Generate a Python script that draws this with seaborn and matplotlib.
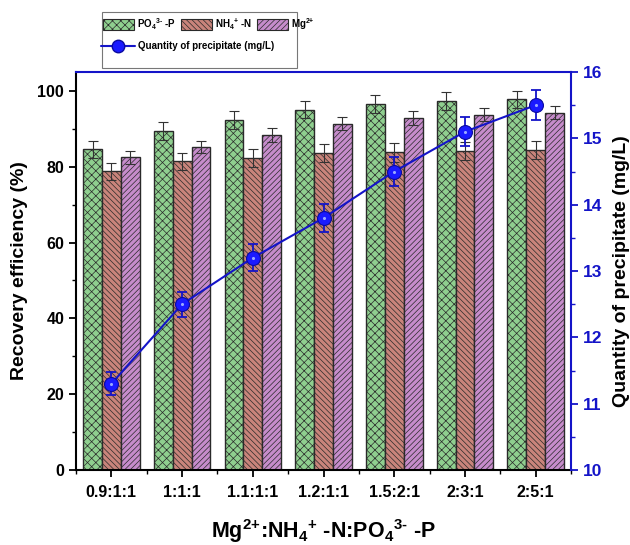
import numpy as np
import pandas as pd
import matplotlib
matplotlib.use("Agg")
import matplotlib.pyplot as plt
import matplotlib.patches as mpatches
from matplotlib.lines import Line2D
from matplotlib.ticker import MultipleLocator, AutoMinorLocator
import seaborn as sns

# ---- data ----
ratios = ["0.9:1:1", "1:1:1", "1.1:1:1", "1.2:1:1", "1.5:2:1", "2:3:1", "2:5:1"]
po4 = [84.6, 89.4, 92.3, 95.1, 96.6, 97.4, 97.8]
po4_err = [2.2, 2.3, 2.3, 2.3, 2.4, 2.3, 2.3]
nh4 = [78.8, 81.4, 82.3, 83.6, 83.8, 84.2, 84.4]
nh4_err = [2.3, 2.3, 2.4, 2.4, 2.5, 2.4, 2.4]
mg = [82.5, 85.3, 88.4, 91.4, 92.8, 93.7, 94.3]
mg_err = [1.7, 1.6, 1.8, 1.7, 1.8, 1.7, 1.8]
precip = [11.30, 12.50, 13.20, 13.80, 14.50, 15.10, 15.50]
precip_err = [0.17, 0.19, 0.20, 0.21, 0.22, 0.22, 0.23]

series_names = ["PO4", "NH4", "Mg"]
series_vals = [po4, nh4, mg]
series_errs = [po4_err, nh4_err, mg_err]
colors = ["#8fcf8f", "#c9847b", "#c68ccb"]
hatches = ["xxxx", "\\\\\\\\\\\\", "//////"]
labels = [r"PO$_{4}$$^{\text{3-}}$ -P", r"NH$_{4}$$^{\text{+}}$ -N", r"Mg$^{\text{2+}}$"]
blue = "#1414c8"

sns.set_style("ticks")
plt.rcParams["font.family"] = ["Liberation Sans", "DejaVu Sans"]
plt.rcParams["font.weight"] = "bold"
plt.rcParams["text.color"] = "black"
plt.rcParams["axes.labelcolor"] = "black"
plt.rcParams["xtick.color"] = "black"
plt.rcParams["ytick.color"] = "black"
plt.rcParams["mathtext.fontset"] = "custom"
plt.rcParams["mathtext.rm"] = "Liberation Sans:bold"
plt.rcParams["mathtext.bf"] = "Liberation Sans:bold"
plt.rcParams["mathtext.it"] = "Liberation Sans:bold"
plt.rcParams["hatch.linewidth"] = 0.5

df = pd.DataFrame({
    "ratio": np.tile(ratios, 3),
    "series": np.repeat(series_names, len(ratios)),
    "value": np.concatenate(series_vals),
})

fig = plt.figure(figsize=(6.3, 5.45), dpi=100)
ax = fig.add_axes([76 / 630, 1 - 470 / 545, (571 - 76) / 630, (470 - 72) / 545])

sns.barplot(data=df, x="ratio", y="value", hue="series", order=ratios,
            hue_order=series_names, palette=colors, width=0.8, ax=ax,
            errorbar=None, legend=False, saturation=1)

for cont, h, errs in zip(ax.containers, hatches, series_errs):
    xs, ys = [], []
    for p in cont:
        p.set_hatch(h)
        p.set_edgecolor("#2a2a2a")
        p.set_linewidth(1.0)
        xs.append(p.get_x() + p.get_width() / 2)
        ys.append(p.get_height())
    ax.errorbar(xs, ys, yerr=errs, fmt="none", ecolor="#333333",
                elinewidth=0.8, capsize=3.5, capthick=0.8, zorder=5)

ax.set_xlim(-0.5, len(ratios) - 0.5)
ax.set_ylim(0, 105)
ax.yaxis.set_major_locator(MultipleLocator(20))
ax.yaxis.set_minor_locator(MultipleLocator(10))
ax.xaxis.set_minor_locator(AutoMinorLocator(2))
ax.set_xticks(range(len(ratios)))
ax.set_xticklabels(ratios, fontsize=11.5, fontweight="bold", color="black")
for t in ax.get_yticklabels():
    t.set_fontsize(11.5)
    t.set_fontweight("bold")
    t.set_color("black")
ax.tick_params(axis="both", which="major", direction="out", length=5, width=1.3, color="black")
ax.tick_params(axis="both", which="minor", direction="out", length=3, width=1.0, color="black")
ax.tick_params(axis="x", pad=6)
for s in ["left", "bottom"]:
    ax.spines[s].set_linewidth(1.5)
    ax.spines[s].set_color("black")
ax.spines["top"].set_visible(False)
ax.spines["right"].set_visible(False)
ax.set_ylabel("Recovery efficiency (%)", fontsize=14, fontweight="bold", labelpad=7,
              color="black")
ax.set_xlabel(r"Mg$^{\text{2+}}$:NH$_{4}$$^{\text{+}}$ -N:PO$_{4}$$^{\text{3-}}$ -P",
              fontsize=15.5, fontweight="bold", labelpad=12, color="black")

ax2 = ax.twinx()
sns.lineplot(x=np.arange(len(ratios)), y=precip, ax=ax2, color=blue, linewidth=1.5,
             marker="o", markersize=10, markerfacecolor="#1a1aff",
             markeredgecolor="#0a0aa0", markeredgewidth=0.8, zorder=10)
ax2.errorbar(np.arange(len(ratios)), precip, yerr=precip_err, fmt="none", ecolor=blue,
             elinewidth=1.3, capsize=3.5, capthick=1.3, zorder=9)
ax2.scatter(np.arange(len(ratios)), precip, s=5, color="#9aa8ff", zorder=11, linewidths=0)
ax2.set_ylim(10, 16)
ax2.yaxis.set_major_locator(MultipleLocator(1))
ax2.yaxis.set_minor_locator(MultipleLocator(0.5))
ax2.tick_params(axis="y", which="major", direction="out", length=5, width=1.3,
                color=blue, labelcolor=blue, labelsize=12.5)
ax2.tick_params(axis="y", which="minor", direction="out", length=3, width=1.0, color=blue)
for t in ax2.get_yticklabels():
    t.set_fontweight("bold")
ax2.spines["right"].set_color(blue)
ax2.spines["right"].set_linewidth(1.5)
ax2.spines["top"].set_color(blue)
ax2.spines["top"].set_linewidth(1.5)
ax2.spines["left"].set_visible(False)
ax2.spines["bottom"].set_visible(False)
ax2.set_ylabel("Quantity of precipitate (mg/L)", fontsize=14, fontweight="bold",
               color="black", labelpad=8)

# ---- legend ----
bar_handles = [mpatches.Patch(facecolor=c, edgecolor="#2a2a2a", hatch=h, linewidth=0.8)
               for c, h in zip(colors, hatches)]
leg1 = fig.legend(bar_handles, labels, ncol=3, loc="upper left",
                  bbox_to_anchor=(100 / 630, 1 - 13 / 545), frameon=False,
                  prop={"size": 7, "weight": "bold"}, handlelength=3.2,
                  handleheight=1.4, handletextpad=0.3, columnspacing=0.5,
                  borderaxespad=0, borderpad=0.3)
line_handle = Line2D([], [], color=blue, linewidth=1.5, marker="o", markersize=9,
                     markerfacecolor="#1a1aff", markeredgecolor="#0a0aa0")
leg2 = fig.legend([line_handle], ["Quantity of precipitate (mg/L)"], loc="upper left",
                  bbox_to_anchor=(98 / 630, 1 - 38 / 545), frameon=False,
                  prop={"size": 7, "weight": "bold"}, handlelength=3.5,
                  handletextpad=0.3, borderaxespad=0, borderpad=0.3)
fig.patches.append(mpatches.Rectangle((102 / 630, 1 - 68 / 545), 195 / 630, 56 / 545,
                                      transform=fig.transFigure, fill=False,
                                      edgecolor="#777777", linewidth=0.8))

fig.savefig("out.png", dpi=100)
